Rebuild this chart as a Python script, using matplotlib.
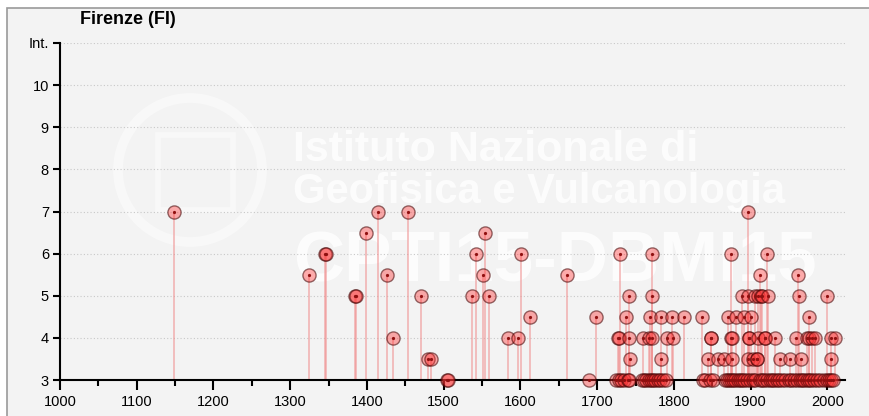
import numpy as np
import matplotlib.pyplot as plt
from matplotlib.patches import Rectangle, Circle

plt.rcParams['font.family'] = ['Liberation Sans', 'DejaVu Sans']

# earthquake year and intensity felt in Firenze
years = [1148, 1325, 1345, 1346, 1385, 1386, 1399, 1414, 1426, 1434, 1453, 1470,
         1480, 1483, 1504, 1505, 1537, 1542, 1551, 1554, 1559, 1584, 1597, 1601,
         1612, 1661, 1689, 1699,
         1727, 1728, 1730, 1738, 1742, 1742, 1743,
         1760, 1768, 1769, 1771, 1771, 1772, 1783, 1783, 1791, 1798, 1799, 1813,
         1836, 1845, 1848, 1849, 1858,
         1865, 1871, 1874, 1875, 1876, 1876, 1881, 1889, 1891, 1896, 1897, 1897,
         1898, 1898, 1901, 1903, 1906, 1908, 1908, 1910, 1910, 1912, 1913, 1915,
         1919, 1919, 1922, 1923, 1932, 1938, 1951, 1959, 1962, 1963, 1966, 1974,
         1976, 1976, 1980, 1984, 1999, 2005, 2005, 2010,
         1725, 1728, 1731, 1735, 1740, 1742, 1758, 1761, 1764, 1767, 1770, 1773,
         1776, 1779, 1782, 1786, 1790, 1838, 1841, 1847, 1851, 1866, 1869, 1872,
         1874, 1877, 1880, 1883, 1886, 1889, 1892, 1895, 1899, 1903, 1906, 1912,
         1915, 1918, 1921, 1925, 1928, 1931, 1934, 1937, 1941, 1945, 1950, 1953,
         1957, 1960, 1964, 1967, 1970, 1973, 1976, 1979, 1982, 1986, 1990, 1996,
         1999, 2002, 2005, 2008]
intensity = [7, 5.5, 6, 6, 5, 5, 6.5, 7, 5.5, 4, 7, 5,
             3.5, 3.5, 3, 3, 5, 6, 5.5, 6.5, 5, 4, 4, 6,
             4.5, 5.5, 3, 4.5,
             4, 4, 6, 4.5, 5, 4, 3.5,
             4, 4, 4.5, 6, 4, 5, 4.5, 3.5, 4, 4.5, 4, 4.5,
             4.5, 3.5, 4, 4, 3.5,
             3.5, 4.5, 6, 4, 4, 3.5, 4.5, 5, 4.5, 3.5, 7, 5,
             4, 4, 4.5, 3.5, 5, 3.5, 3.5, 5, 4, 5.5, 5, 5,
             4, 4, 6, 5, 4, 3.5, 3.5, 4, 5.5, 5, 3.5, 4,
             4.5, 4, 4, 4, 5, 4, 3.5, 4,
             3, 3, 3, 3, 3, 3, 3, 3, 3, 3, 3, 3,
             3, 3, 3, 3, 3, 3, 3, 3, 3, 3, 3, 3,
             3, 3, 3, 3, 3, 3, 3, 3, 3, 3, 3, 3,
             3, 3, 3, 3, 3, 3, 3, 3, 3, 3, 3, 3,
             3, 3, 3, 3, 3, 3, 3, 3, 3, 3, 3, 3,
             3, 3, 3, 3]

y_ticks = [3, 4, 5, 6, 7, 8, 9, 10, 11]
y_labels = ['3', '4', '5', '6', '7', '8', '9', '10', 'Int.']

W, H = 869, 416
fig = plt.figure(figsize=(W / 100, H / 100), dpi=100)
fig.patch.set_facecolor('white')
fig.patches.append(Rectangle((7 / W, -0.1), 1.1, 1.1 - 8 / H, transform=fig.transFigure,
                             facecolor='#f3f3f3', edgecolor='#9a9a9a', lw=1.2, zorder=-10))

ax = fig.add_axes([60 / W, 1 - 380 / H, 785 / W, 337 / H])
ax.set_facecolor('none')

# watermark
ax_wm = fig.add_axes([0, 0, 1, 1], zorder=-5)
ax_wm.set_axis_off()
ax_wm.set_xlim(0, W)
ax_wm.set_ylim(H, 0)
ax_wm.add_patch(Circle((190, 170), 72, facecolor='none', edgecolor='white', lw=7, alpha=0.45))
ax_wm.add_patch(Rectangle((158, 135), 75, 75, facecolor='none', edgecolor='white', lw=4, alpha=0.45))
ax_wm.text(293, 150, 'Istituto Nazionale di', fontsize=31, fontweight='bold', color='white',
           va='center', alpha=0.8)
ax_wm.text(293, 192, 'Geofisica e Vulcanologia', fontsize=30, fontweight='bold', color='white',
           va='center', alpha=0.8)
ax_wm.text(293, 264, 'CPTI15-DBMI15', fontsize=51, fontweight='bold', color='white',
           va='center', alpha=0.8)

for yv in y_ticks[1:]:
    ax.axhline(yv, color='#c8c8c8', lw=0.8, ls=(0, (1, 2)), zorder=0)

ax.vlines(years, 3, intensity, color='#f08a8a', lw=1.2, alpha=0.6, zorder=2)
ax.plot(years, intensity, 'o', ms=9.5, mfc=(1, 0.2, 0.2, 0.4), mec=(0.25, 0, 0, 0.55),
        mew=1, ls='none', zorder=3, clip_on=False)
ax.plot(years, intensity, 'o', ms=1.3, color='#901010', ls='none', zorder=4, clip_on=False)

ax.set_xlim(1000, 2023)
ax.set_ylim(3, 11)
ax.set_xticks(range(1000, 2001, 100))
ax.set_xticks(range(1050, 2001, 100), minor=True)
ax.set_yticks(y_ticks)
ax.set_yticklabels(y_labels)
ax.tick_params(axis='both', labelsize=10.5, colors='black', width=1.5)
ax.tick_params(axis='x', which='major', length=7, direction='out')
ax.tick_params(axis='x', which='minor', length=4, width=1.5, direction='out')
ax.tick_params(axis='y', length=5, direction='out', pad=3)
for side in ['top', 'right']:
    ax.spines[side].set_visible(False)
for side in ['left', 'bottom']:
    ax.spines[side].set_linewidth(1.5)

fig.text(80 / W, 1 - 20 / H, 'Firenze (FI)', fontsize=13, fontweight='bold', va='center')

fig.savefig('out.png', dpi=100)
